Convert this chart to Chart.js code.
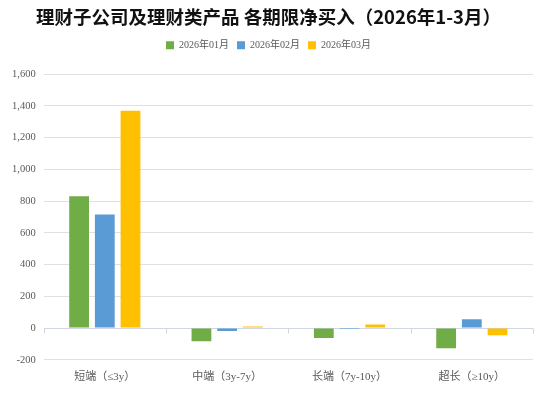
<!DOCTYPE html>
<html>
<head>
<meta charset="utf-8">
<script src="https://cdn.jsdelivr.net/npm/chart.js@4/dist/chart.umd.min.js"></script>
<style>
  html, body { margin: 0; padding: 0; background: #fff; }
  #wrap { width: 549px; height: 393px; }
</style>
</head>
<body>
<div id="wrap"><canvas id="chartQixian"></canvas></div>
<script>
// 期限分类
const categories = ['短端（≤3y）', '中端（3y-7y）', '长端（7y-10y）', '超长（≥10y）'];
const months = ['2026年01月', '2026年02月', '2026年03月'];
// 各期限净买入（亿元）
const jan = [830, -83, -63, -127];
const feb = [716, -19, -6, 55];
const mar = [1370, 10, 23, -45];
const colors = ['#70AD47', '#5B9BD5', '#FFC000'];

// 零轴上的分隔刻度
const zeroTicks = {
    id: 'zeroTicks',
    afterDatasetsDraw(chart) {
        const { ctx, scales: { x, y } } = chart;
        const y0 = Math.round(y.getPixelForValue(0)) + 0.5;
        ctx.save();
        ctx.strokeStyle = '#d0d7e2';
        ctx.lineWidth = 1;
        ctx.beginPath();
        for (let i = 0; i <= categories.length; i++) {
            const px = Math.round(x.left + (x.right - x.left) * i / categories.length) + 0.5;
            ctx.moveTo(px, y0);
            ctx.lineTo(px, y0 + 5);
        }
        ctx.stroke();
        ctx.restore();
    }
};

// 图例下方多留点空
const legendGap = {
    id: 'legendGap',
    beforeInit(chart) {
        const fit = chart.legend.fit;
        chart.legend.fit = function () {
            fit.bind(chart.legend)();
            this.height += 14;
        };
    }
};

const ctx = document.getElementById('chartQixian').getContext('2d');
new Chart(ctx, {
    type: 'bar',
    data: {
        labels: categories,
        datasets: [jan, feb, mar].map((d, i) => ({
            label: months[i],
            data: d,
            backgroundColor: colors[i],
            categoryPercentage: 0.63,
            barPercentage: 0.77
        }))
    },
    options: {
        responsive: true,
        maintainAspectRatio: false,
        animation: false,
        layout: { padding: { left: 4, right: 16, bottom: 6 } },
        plugins: {
            title: {
                display: true,
                text: '理财子公司及理财类产品 各期限净买入（2026年1-3月）',
                color: '#111',
                font: { family: '"Noto Sans CJK SC", sans-serif', size: 18.5, weight: 'bold' },
                padding: { top: 6, bottom: 4 }
            },
            legend: {
                position: 'top',
                labels: {
                    boxWidth: 8,
                    boxHeight: 8,
                    padding: 8,
                    color: '#595959',
                    font: { family: '"Liberation Serif", "Noto Sans CJK SC", serif', size: 10 }
                }
            },
            tooltip: { enabled: false }
        },
        scales: {
            x: {
                grid: { display: false },
                border: { display: false },
                ticks: {
                    color: '#595959',
                    font: { family: '"Liberation Serif", "Noto Sans CJK SC", serif', size: 11 }
                }
            },
            y: {
                min: -200,
                max: 1600,
                ticks: {
                    stepSize: 200,
                    color: '#595959',
                    padding: 8,
                    font: { family: '"Liberation Serif", serif', size: 10.5 },
                    callback: v => v.toLocaleString('en-US')
                },
                border: { display: false },
                grid: {
                    drawTicks: false,
                    color: c => c.tick && c.tick.value === 0 ? '#d0d7e2' : '#e0e0e0'
                }
            }
        }
    },
    plugins: [zeroTicks, legendGap]
});
</script>
</body>
</html>
